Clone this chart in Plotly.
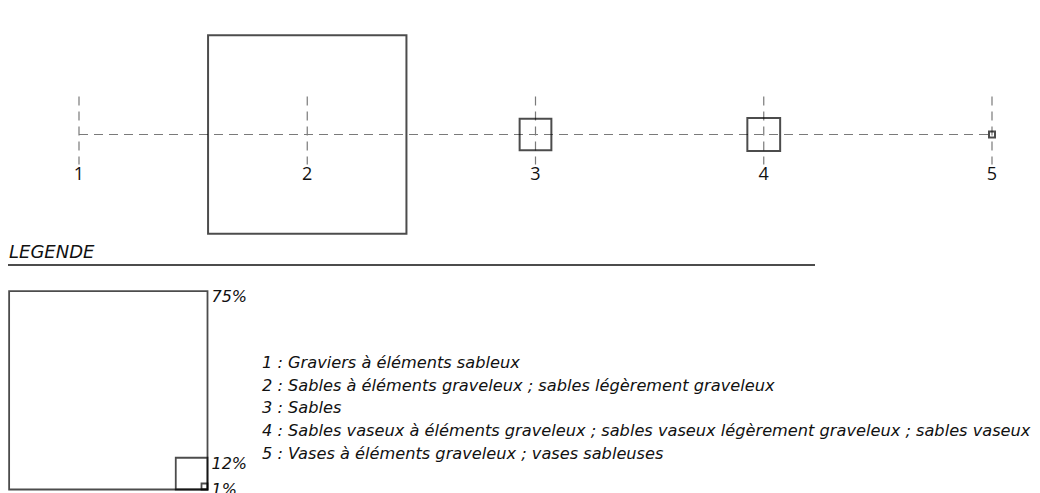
import plotly.graph_objects as go

# ---------------- data ----------------
stations = [1, 2, 3, 4, 5]
station_labels = ["1", "2", "3", "4", "5"]
station_pct = [0, 75, 12, 12.4, 1]          # share of each station (square side ~ %)

legend_pct = [75, 12, 1]
legend_pct_labels = ["75%", "12%", "1%"]

class_labels = [
    "1 : Graviers à éléments sableux",
    "2 : Sables à éléments graveleux ; sables légèrement graveleux",
    "3 : Sables",
    "4 : Sables vaseux à éléments graveleux ; sables vaseux légèrement graveleux ; sables vaseux",
    "5 : Vases à éléments graveleux ; vases sableuses",
]

# ---------------- layout constants (pixels) ----------------
W, H = 1040, 493
PX_PER_PCT = 2.645          # side of a square per percent
MIN_SIDE = 6.0
ST_FIRST_PX, ST_LAST_PX = 79, 992
CENTER_Y = 134.5
TICK_HALF = 30
LEG_CORNER = (207.5, 489.5)   # bottom-right corner of the legend squares
FONT = "Open Sans"
FONT_LEG = "DejaVu Sans"
DASH = "9px,6px"
GRAY = "#7a7a7a"
INK = "#000000"

def side(p):
    return max(p * PX_PER_PCT, MIN_SIDE) if p > 0 else 0

# x axis in station units so that station 1/5 fall on given pixels
k = (ST_LAST_PX - ST_FIRST_PX) / (stations[-1] - stations[0])
x0 = stations[0] - ST_FIRST_PX / k
x1 = x0 + W / k

fig = go.Figure()

# dashed baseline
fig.add_trace(go.Scatter(
    x=[stations[0], stations[-1]], y=[CENTER_Y, CENTER_Y], mode="lines",
    line=dict(color=GRAY, width=1.2, dash=DASH), hoverinfo="skip", showlegend=False))

# dashed vertical ticks
vx, vy = [], []
for s in stations:
    vx += [s, s, None]
    vy += [CENTER_Y - TICK_HALF - 8, CENTER_Y + TICK_HALF, None]
fig.add_trace(go.Scatter(
    x=vx, y=vy, mode="lines", line=dict(color=GRAY, width=1.2, dash=DASH),
    hoverinfo="skip", showlegend=False))

# proportional squares
sx = [s for s, p in zip(stations, station_pct) if p > 0]
ss = [side(p) for p in station_pct if p > 0]
fig.add_trace(go.Scatter(
    x=sx, y=[CENTER_Y] * len(sx), mode="markers",
    marker=dict(symbol="square-open", size=ss, color=INK, line=dict(width=2, color=INK)),
    hoverinfo="skip", showlegend=False))

# station labels
fig.add_trace(go.Scatter(
    x=stations, y=[CENTER_Y + 41] * len(stations), mode="text", text=station_labels,
    textposition="middle center", textfont=dict(family=FONT, size=18, color="#111"),
    hoverinfo="skip", showlegend=False))

# ---------------- legend (pixel axes x2/y2) ----------------
cx, cy = LEG_CORNER
lsides = [side(p) for p in legend_pct]
fig.add_trace(go.Scatter(
    x=[cx - s / 2 for s in lsides], y=[cy - s / 2 for s in lsides], mode="markers",
    marker=dict(symbol="square-open", size=lsides, color=INK, line=dict(width=1.8, color=INK)),
    xaxis="x2", yaxis="y2", hoverinfo="skip", showlegend=False))

fig.add_trace(go.Scatter(
    x=[cx + 4] * len(legend_pct), y=[cy - s + 7 for s in lsides], mode="text",
    text=legend_pct_labels, textposition="middle right",
    textfont=dict(family=FONT_LEG, size=16, color="#111", style="italic"),
    xaxis="x2", yaxis="y2", hoverinfo="skip", showlegend=False))

fig.add_trace(go.Scatter(
    x=[262] * len(class_labels), y=[364 + i * 22.7 for i in range(len(class_labels))],
    mode="text", text=class_labels, textposition="middle right",
    textfont=dict(family=FONT_LEG, size=16.2, color="#111", style="italic"),
    xaxis="x2", yaxis="y2", hoverinfo="skip", showlegend=False))

fig.add_trace(go.Scatter(
    x=[9], y=[253], mode="text", text=["LEGENDE"], textposition="middle right",
    textfont=dict(family=FONT_LEG, size=18, color="#111", style="italic"),
    xaxis="x2", yaxis="y2", hoverinfo="skip", showlegend=False))

fig.add_shape(type="line", xref="x2", yref="y2", x0=8, x1=815, y0=265, y1=265,
              line=dict(color="#111", width=1.6))

fig.update_layout(
    width=W, height=H, margin=dict(l=0, r=0, t=0, b=0),
    paper_bgcolor="white", plot_bgcolor="white",
    xaxis=dict(range=[x0, x1], visible=False, fixedrange=True),
    yaxis=dict(range=[H, 0], visible=False, fixedrange=True),
    xaxis2=dict(range=[0, W], visible=False, overlaying="x", fixedrange=True),
    yaxis2=dict(range=[H, 0], visible=False, overlaying="y", fixedrange=True),
    showlegend=False,
)

fig.write_html("out.html", config={"displayModeBar": False},
               post_script="document.body.style.margin='0';document.body.style.overflow='hidden';")
